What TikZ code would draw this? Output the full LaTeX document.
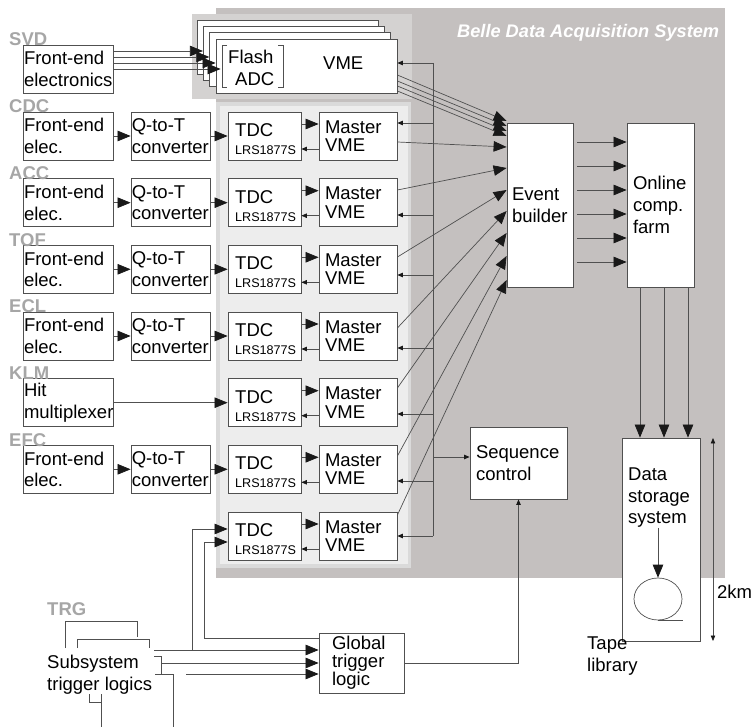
\documentclass[tikz,border=0pt]{standalone}
\usepackage{fontspec}
\setmainfont{Liberation Sans}
\usetikzlibrary{arrows.meta,calc,shapes.geometric}
\definecolor{dkgray}{HTML}{C4C0BF}
\definecolor{svdgray}{HTML}{D4D2D1}
\definecolor{panel}{HTML}{EDEDED}
\definecolor{panelb}{HTML}{DADADA}
\definecolor{lblgray}{HTML}{A6A6A6}
\definecolor{ln}{HTML}{505050}
\newcommand{\myfs}{\fontsize{18.5}{21.5}\selectfont}
\newcommand{\mfs}{\fontsize{18.5}{18.5}\selectfont}
\newcommand{\gfs}{\fontsize{18.5}{18}\selectfont}
\newcommand{\ffs}{\fontsize{18.5}{22}\selectfont}
\tikzset{
 box/.style={draw=ln, fill=white, line width=0.8pt, inner ysep=0pt, align=left},
 txt/.style={inner sep=0pt, align=left, font=\myfs},
 lbl/.style={inner sep=0pt, font=\fontsize{18.5}{20}\selectfont\bfseries, text=lblgray, anchor=base west},
 wire/.style={draw=ln, line width=0.7pt},
 big/.style={wire, -{Triangle[length=13pt,width=10.5pt,color=black!90]}},
 small/.style={wire, -{Triangle[length=5.5pt,width=4.5pt,color=black!90]}},
 dbl/.style={wire, {Triangle[length=5.5pt,width=4.5pt,color=black!90]}-{Triangle[length=5.5pt,width=4.5pt,color=black!90]}},
}
\newcommand{\mybox}[8][1.5]{%
 \pgfmathsetmacro{\bxw}{#5-#3}%
 \pgfmathsetmacro{\bxh}{#6-#4}%
 \pgfmathsetmacro{\bxcx}{(#3+#5)/2}%
 \pgfmathsetmacro{\bxcy}{(#4+#6)/2}%
 \pgfmathsetmacro{\bxtw}{#5-#3-2*#1}%
 \node[box, inner xsep=#1pt, minimum width=\bxw pt, minimum height=\bxh pt, text width=\bxtw pt, font=#7] (#2) at (\bxcx,\bxcy) {#8};}
\begin{document}
\begin{tikzpicture}[x=1pt,y=-1pt]
\useasboundingbox (0,0) rectangle (753,727);
% backgrounds
\fill[dkgray] (216,8) rectangle (725,578);
\fill[svdgray] (192,14) rectangle (412,99);
\fill[panelb] (216,102) rectangle (411,568);
\fill[panel] (220,106) rectangle (408,564);
\node[anchor=base west, inner sep=0pt, text=white, font=\fontsize{18.2}{20}\selectfont\bfseries\itshape] (title) at (457,38) {Belle Data Acquisition System};

% SVD
\node[lbl] (labsvd) at (9,45.5) {SVD};
\mybox[1]{svdfe}{23}{45}{113}{93}{\myfs}{Front-end\\electronics}
\foreach \k/\sx/\sy in {1/197/20, 2/203.3/26.3, 3/209.7/32.7, 4/216/39}{
  \mybox[1]{svd\k}{\sx}{\sy}{\sx+181}{\sy+54}{\myfs}{}
}
\draw[wire] (227,45) -- (222,45) -- (222,87) -- (227,87);
\draw[wire] (278,45) -- (283,45) -- (283,87) -- (278,87);
\node[txt, anchor=base west] (flash) at (228,64) {Flash};
\node[txt, anchor=base west] (adc) at (235,86) {ADC};
\node[txt, anchor=base west] (vme) at (323,70) {VME};
\draw[big] (svdfe.east |- 0,51) -- (svd2.west |- 0,51);
\draw[big] (svdfe.east |- 0,57) -- (svd3.west |- 0,57);
\draw[big] (svdfe.east |- 0,63) -- (svd4.west |- 0,63);
\draw[big] (svdfe.east |- 0,69) -- ([xshift=5pt]svd4.west |- 0,69);

% main blocks
\mybox[5]{eb}{507}{123}{573}{287}{\myfs}{Event\\builder}
\mybox[6]{farm}{627}{123}{694}{287}{\ffs}{Online\\comp.\\farm}
\mybox[6]{seq}{470}{427}{567}{499}{\myfs}{Sequence\\control}
\mybox[1]{ds}{622}{438}{700}{641}{\myfs}{}
\node[txt, anchor=north west] (dstxt) at (628,468) {Data\\storage\\system};
\node[draw=ln, line width=0.7pt, ellipse, minimum width=48pt, minimum height=42pt, inner sep=0pt] (tape) at (658,599) {};
\draw[wire] (tape.south) -- ++(25,0);
\draw[big] (dstxt.south -| tape.north) -- (tape.north);
\node[txt, anchor=north west] (tapelib) at (587,637) {Tape\\library};
\coordinate (ka) at (713,438);
\coordinate (kb) at (713,641);
\draw[dbl] (ka) -- (kb);
\node[txt, anchor=base west] (km) at (717,598) {2km};

% bus
\coordinate (bustop) at (433,63);
\coordinate (busbot) at (433,536);
\draw[wire] (bustop) -- (busbot);
\draw[small] (bustop) -- (svd4.east |- bustop);
\draw[small] (bustop |- 0,457) -- (seq.west |- 0,457);

% SVD to event builder
\draw[big] (svd4.east |- 0,75) -- (eb.west |- 0,121);
\draw[big] (svd4.east |- 0,81) -- (eb.west |- 0,126);
\draw[big] (svd4.east |- 0,86) -- (eb.west |- 0,131);
\draw[big] (svd4.east |- 0,91) -- (eb.west |- 0,136);

% event builder to farm
\foreach \yy in {142,166,190,214,238,262}{
  \draw[big] ([xshift=4pt]eb.east |- 0,\yy) -- (farm.west |- 0,\yy);
}
% farm to storage
\foreach \xx in {640,664,688}{
  \draw[big] (farm.south -| \xx,0) -- (ds.north -| \xx,0);
}

% detector rows
\foreach \rid/\rt/\lab/\kind/\yo/\yi/\ye in {1/112/CDC/1/142/123/147, 2/178.7/ACC/1/190/215/168, 3/245.3/TOF/1/257/275/190, 4/312/ECL/1/328/348/211, 5/378.7/KLM/2/388/414/233, 6/445.3/EFC/1/456/481/256, 7/512/none/3/515/536/280}{
  \pgfmathsetmacro{\rb}{\rt+48}
  \mybox[6]{tdc\rid}{228}{\rt}{301}{\rb}{\myfs}{}
  \node[txt, anchor=base west] (tdca\rid) at (235,\rt+24.5) {TDC};
  \node[txt, anchor=base west, font=\fontsize{12.6}{14}\selectfont] (tdcb\rid) at (235,\rt+42.5) {LRS1877S};
  \mybox[6]{m\rid}{319}{\rt}{397}{\rb}{\mfs}{Master\\VME}
  \ifcase\kind\or
    \mybox[1]{fe\rid}{23}{\rt}{113}{\rb}{\myfs}{Front-end\\elec.}
    \mybox[0.8]{qt\rid}{131}{\rt}{210}{\rb}{\myfs}{Q-to-T\\converter}
    \node[lbl] (lab\rid) at (9,\rt+1) {\lab};
    \draw[big] (fe\rid) -- (qt\rid);
    \draw[big] (qt\rid) -- (tdc\rid);
  \or
    \mybox[1]{hit\rid}{23}{\rt}{113}{\rb}{\myfs}{Hit\\multiplexer}
    \node[lbl] (lab\rid) at (9,\rt+1) {\lab};
    \draw[big] (hit\rid) -- (tdc\rid);
  \or\fi
  \draw[big] (tdc\rid.east |- 0,\rt+12) -- (m\rid.west |- 0,\rt+12);
  \draw[small] (m\rid.west |- 0,\rt+37) -- (tdc\rid.east |- 0,\rt+37);
  \draw[small] (bustop |- 0,\yi) -- (m\rid.east |- 0,\yi);
  \draw[big] (m\rid.east |- 0,\yo) -- (eb.west |- 0,\ye);
}

% trigger
\node[lbl] (labtrg) at (47,615) {TRG};
\draw[wire] (65,648) -- (65,621) -- (137,621) -- (137,637);
\draw[wire] (77,648) -- (77,639) -- (149,639) -- (149,648);
\node[txt, anchor=north west] (stl) at (47,655) {Subsystem\\trigger logics};
\mybox[13]{gtl}{319}{633}{404}{693}{\gfs}{Global\\trigger\\logic}
\coordinate (t1) at (154,650);
\coordinate (br1) at (192,650);
\coordinate (br2) at (204,638);
\coordinate (t2a) at (154,656);
\coordinate (t2b) at (161,663);
\coordinate (t3a) at (155,674);
\coordinate (t3b) at (186,674);
\coordinate (d1) at (173,727);
\coordinate (d2) at (101,727);
\draw[big] (t1) -- (gtl.west |- t1);
\draw[big] (br1) |- (tdc7.west |- 0,529);
\draw[big] (gtl.west |- br2) -- (br2) |- (tdc7.west |- 0,542);
\draw[wire] (t2a) -- (161,656) -- (161,674);
\draw[big] (t2b) -- (gtl.west |- t2b);
\draw[wire] (t3a) -| (d1);
\draw[big] (t3b) -- (gtl.west |- t3b);
\draw[wire] (89,694) -- (89,702) -- (101,702);
\draw[wire] (101,694) -- (d2);
\draw[small] (gtl.east |- 0,663) -| (seq.south);
\end{tikzpicture}
\end{document}
